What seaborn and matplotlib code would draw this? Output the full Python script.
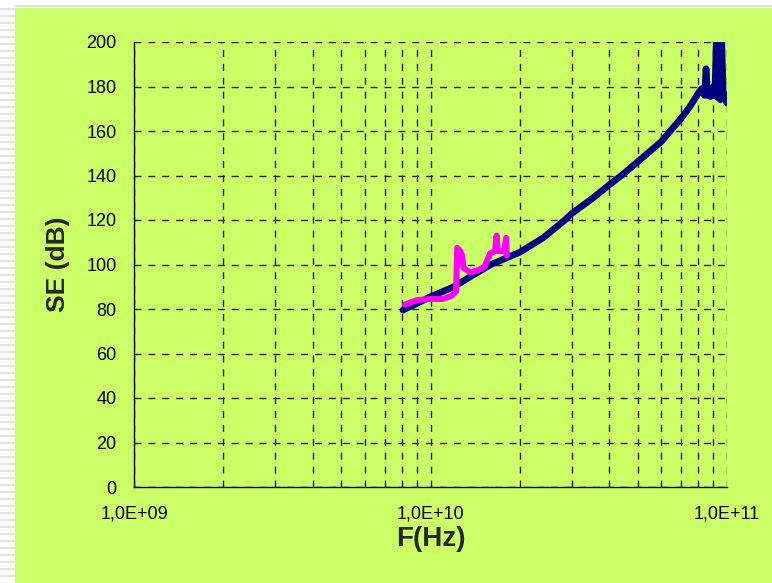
import numpy as np
import pandas as pd
import matplotlib
matplotlib.use("Agg")
import matplotlib.pyplot as plt
import matplotlib.ticker as mticker
from matplotlib.patches import Rectangle
import seaborn as sns

# navy curve (frequency in Hz, shielding effectiveness in dB)
navy_f = [8.07e9, 9.0e9, 1.0e10, 1.2e10, 1.4e10, 1.6e10, 2.0e10, 2.4e10, 2.84e10,
          3.0e10, 3.5e10, 4.0e10, 4.5e10, 5.0e10, 6.0e10, 7.0e10, 7.5e10, 8.0e10,
          8.2e10, 8.4e10, 8.5e10, 8.6e10, 8.8e10, 9.0e10, 9.1e10, 9.2e10, 9.3e10,
          9.4e10, 9.5e10, 9.6e10, 9.7e10, 9.9e10, 1.0e11]
navy_se = [79.5, 82.5, 85.5, 90, 95.5, 100, 105.5, 112, 120,
           123, 129.5, 135.7, 141, 146.2, 155.2, 165.7, 171, 177,
           179, 176, 188, 176, 175.5, 180, 176, 200, 175,
           200, 174, 200, 178, 174, 172.5]

# magenta curve
mag_f = [8.2e9, 9.0e9, 1.0e10, 1.1e10, 1.18e10, 1.22e10, 1.23e10, 1.26e10, 1.28e10,
         1.29e10, 1.36e10, 1.45e10, 1.52e10, 1.59e10, 1.65e10, 1.67e10, 1.69e10,
         1.77e10, 1.8e10, 1.81e10]
mag_se = [82, 84, 84.5, 84.5, 86, 88, 107.5, 106, 104,
          98.5, 96.5, 97.5, 99, 105, 106, 113, 106,
          106, 112, 104]

yticks = list(range(0, 201, 20))
xtick_labels = ["1,0E+09", "1,0E+10", "1,0E+11"]

lime = "#CCFF66"

sns.set_style("white")
plt.rcParams["font.family"] = ["Liberation Sans", "DejaVu Sans"]

fig = plt.figure(figsize=(7.72, 5.83), dpi=100)
fig.patch.set_facecolor("white")
# lime page area with the thin white border strips on the left and top
fig.patches.append(Rectangle((15 / 772, 0), 1, (583 - 8) / 583, transform=fig.transFigure,
                             facecolor=lime, edgecolor="none", zorder=-10))
for yy in np.arange(10, 583, 7):
    fig.patches.append(Rectangle((0, 1 - yy / 583), 15 / 772, 2 / 583, transform=fig.transFigure,
                                 facecolor="#e4e4e4", edgecolor="none", zorder=-10))
fig.patches.append(Rectangle((15 / 772, 1 - 7 / 583), 1, 2 / 583, transform=fig.transFigure,
                             facecolor="#e0e0e0", edgecolor="none", zorder=-10))

ax = fig.add_axes([134 / 772, 96 / 583, (727 - 134) / 772, (487 - 42) / 583])
ax.set_facecolor(lime)

navy = pd.DataFrame({"F": navy_f, "SE": navy_se})
mag = pd.DataFrame({"F": mag_f, "SE": mag_se})
sns.lineplot(data=navy, x="F", y="SE", ax=ax, color="#000080", lw=4.8, sort=False,
             estimator=None, solid_joinstyle="round", solid_capstyle="round", zorder=3)
sns.lineplot(data=mag, x="F", y="SE", ax=ax, color="#FF00FF", lw=4.3, sort=False,
             estimator=None, solid_joinstyle="round", solid_capstyle="round", zorder=4)

ax.set_xscale("log")
ax.set_xlim(1e9, 1e11)
ax.set_ylim(0, 200)
ax.set_yticks(yticks)
ax.set_xticks([1e9, 1e10, 1e11])
ax.set_xticklabels(xtick_labels)
ax.xaxis.set_minor_locator(mticker.LogLocator(base=10, subs=np.arange(2, 10)))
ax.xaxis.set_minor_formatter(mticker.NullFormatter())

grid_kw = dict(color="#222222", lw=1.0, linestyle=(0, (5, 5)))
ax.grid(True, which="major", axis="both", **grid_kw)
ax.grid(True, which="minor", axis="x", **grid_kw)
ax.set_axisbelow(True)

for s in ["top", "right"]:
    ax.spines[s].set_visible(False)
for s in ["left", "bottom"]:
    ax.spines[s].set_color("black")
    ax.spines[s].set_linewidth(1.0)

ax.tick_params(axis="both", which="major", direction="out", length=4.5, width=1,
               labelsize=13, colors="black", pad=8)
ax.tick_params(axis="x", which="minor", length=0)
ax.tick_params(axis="x", which="major", pad=9)

ax.set_xlabel("F(Hz)", fontsize=20, fontweight="bold", labelpad=2)
ax.set_ylabel("SE (dB)", fontsize=19, fontweight="bold", labelpad=12)

fig.savefig("out.png", dpi=100, facecolor=fig.get_facecolor())
